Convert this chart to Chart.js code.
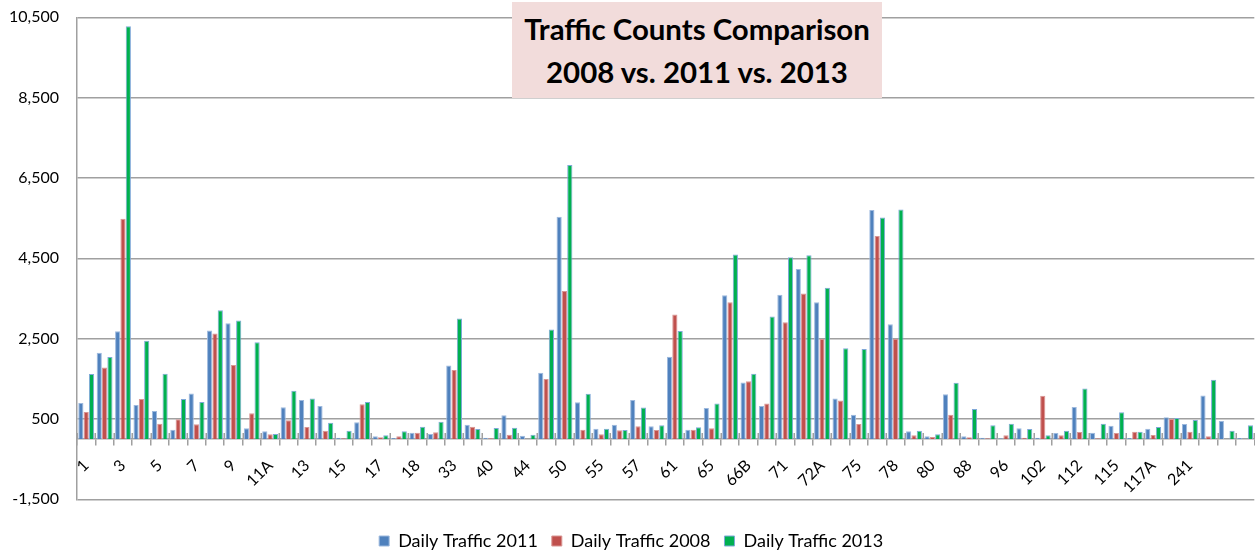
<!DOCTYPE html>
<html>
<head>
<meta charset="utf-8">
<script src="https://cdn.jsdelivr.net/npm/chart.js@4.4.1/dist/chart.umd.min.js"></script>
<style>
  html, body { margin: 0; padding: 0; background: #ffffff; }
  #wrap { position: relative; width: 1255px; height: 551px; overflow: hidden; }
  #c { position: absolute; left: 0; top: 0; }
  #title {
    position: absolute; left: 512px; top: 2px; width: 370px; height: 96px;
    background: #f2dcdb; box-sizing: border-box; padding-top: 5px;
    font-family: Lato, "Open Sans", sans-serif; font-weight: bold; font-size: 29.4px;
    line-height: 43px; text-align: center; color: #000; white-space: nowrap;
  }
</style>
</head>
<body>
<div id="wrap">
  <canvas id="c" width="1255" height="551"></canvas>
  <div id="title"><span>Traffic Counts Comparison</span><br><span>2008 vs. 2011 vs. 2013</span></div>
</div>
<script>
// ---- data ----
const categories = [
  "1","2","3","4","5","6","7","8","9","10",
  "11A","12","13","14","15","16","17","17A","18","19",
  "33","34","40","42","44","45","50","51","55","56",
  "57","58","61","62","65","66","66B","67","71","72",
  "72A","73","75","76","78","79","80","81","88","90",
  "96","98","102","104","112","113","115","116","117A","118",
  "241","242","",""
];
const traffic2011 = [
  900, 2150, 2683, 850, 700, 233, 1133, 2700, 2883, 267,
  192, 792, 975, 825, 33, 417, 67, 25, 158, 125,
  1833, 358, 33, 592, 83, 1650, 5533, 917, 258, 358,
  975, 317, 2050, 233, 775, 3583, 1408, 825, 3592, 4233,
  3408, 1008, 608, 5700, 2858, 192, 67, 1117, 67, 33,
  17, 267, 33, 150, 800, 158, 333, 25, 258, 542,
  375, 1083, 450, 25
];
const traffic2008 = [
  675, 1783, 5483, 1000, 383, 492, 367, 2625, 1842, 642,
  117, 467, 300, 208, 17, 867, 42, 67, 158, 167,
  1717, 308, 17, 108, 0, 1492, 3683, 233, 117, 217,
  317, 225, 3100, 233, 267, 3408, 1442, 883, 2908, 3625,
  2492, 958, 375, 5058, 2500, 92, 50, 608, 42, 17,
  92, 33, 1075, 92, 175, 17, 150, 183, 100, 500,
  183, 67, 0, 0
];
const traffic2013 = [
  1617, 2042, 10275, 2450, 1625, 1000, 925, 3208, 2950, 2408,
  125, 1200, 1008, 408, 208, 925, 92, 192, 308, 433,
  3000, 250, 275, 283, 108, 2725, 6825, 1125, 258, 225,
  783, 342, 2692, 292, 883, 4592, 1625, 3050, 4525, 4575,
  3767, 2258, 2242, 5517, 5717, 208, 117, 1400, 750, 342,
  383, 250, 92, 208, 1258, 383, 667, 183, 300, 525,
  475, 1475, 208, 342
];
const seriesNames = ["Daily Traffic 2011", "Daily Traffic 2008", "Daily Traffic 2013"];
const yMin = -1500, yMax = 10500, yStep = 2000;

const gridColor = '#a0a0a0';
const fontFamily = 'Lato, "Open Sans", sans-serif';

// move the legend block to where the reference has it
const legendShift = {
  id: 'legendShift',
  afterLayout(c) {
    const L = c.legend;
    const d = 518 - L.top;
    L.top += d; L.bottom += d;
    L.left += 4; L.right += 4;
  }
};

// category-axis tick marks that cross the axis line (upper half)
const crossTicks = {
  id: 'crossTicks',
  beforeDatasetsDraw(c) {
    const xs = c.scales.x, y0 = c.scales.y.getPixelForValue(0), ctx = c.ctx;
    ctx.save();
    ctx.strokeStyle = gridColor; ctx.lineWidth = 1.5;
    ctx.beginPath();
    for (let i = 0; i <= categories.length; i++) {
      const px = Math.round(xs.getPixelForValue(i - 0.5)) + 0.25;
      ctx.moveTo(px, y0 - 6); ctx.lineTo(px, y0);
    }
    ctx.stroke();
    ctx.restore();
  }
};

const chart = new Chart(document.getElementById('c'), {
  type: 'bar',
  data: {
    labels: categories,
    datasets: [
      { label: seriesNames[0], data: traffic2011, backgroundColor: '#4f81bd', borderColor: '#9db9de', borderWidth: 1 },
      { label: seriesNames[1], data: traffic2008, backgroundColor: '#c0504d', borderColor: '#d99694', borderWidth: 1 },
      { label: seriesNames[2], data: traffic2013, backgroundColor: '#00b050', borderColor: '#7fa8d8', borderWidth: 1 }
    ]
  },
  plugins: [legendShift, crossTicks],
  options: {
    responsive: false,
    animation: false,
    devicePixelRatio: 1,
    layout: { autoPadding: false, padding: { top: 17.3, right: 0.7, left: 0, bottom: 9.7 } },
    datasets: { bar: { categoryPercentage: 0.87, barPercentage: 0.97 } },
    scales: {
      x: {
        position: { y: 0 },
        afterFit: function (s) { s.paddingLeft = 0; s.paddingRight = 0; },
        grid: { offset: true, drawOnChartArea: false, drawTicks: true, tickLength: 6, color: gridColor, lineWidth: 1.5 },
        border: { display: true, color: gridColor, width: 1.5 },
        ticks: {
          autoSkip: false, maxRotation: 45, minRotation: 45, padding: 11,
          font: { family: fontFamily, size: 16 }, color: '#000',
          callback: function (value, index) { return index % 2 === 0 ? categories[index] : ''; }
        }
      },
      y: {
        min: yMin, max: yMax,
        afterFit: function (s) { s.width = 77; s.paddingTop = 0; s.paddingBottom = 0; },
        grid: { color: gridColor, lineWidth: 1.5, drawTicks: false },
        border: { display: true, color: gridColor, width: 1.5 },
        ticks: {
          stepSize: yStep, padding: 18, color: '#000',
          font: { family: fontFamily, size: 16 },
          callback: function (v) { return v.toLocaleString('en-US'); }
        }
      }
    },
    plugins: {
      legend: {
        position: 'bottom',
        labels: { boxWidth: 10, boxHeight: 10, padding: 14, color: '#000', font: { family: fontFamily, size: 18 } }
      },
      tooltip: { enabled: false }
    }
  }
});
</script>
</body>
</html>
